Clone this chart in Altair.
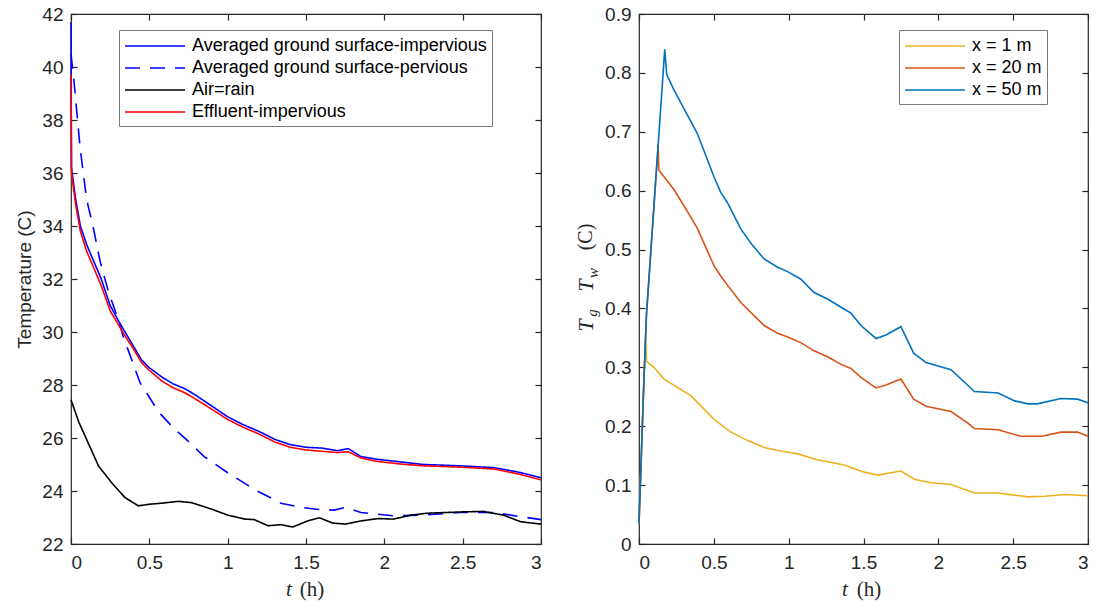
import altair as alt
import pandas as pd

# ---------------- Left panel: temperatures ----------------
t_imp = [0, 0.003, 0.03, 0.06, 0.1, 0.15, 0.193, 0.25, 0.3, 0.345, 0.4, 0.45, 0.5, 0.58, 0.65, 0.73, 0.8, 0.9,
         1.0, 1.1, 1.2, 1.3, 1.4, 1.5, 1.6, 1.7, 1.77, 1.85, 1.95, 2.1, 2.25, 2.4, 2.55, 2.7, 2.85, 3.0]
T_imp = [41.7, 36.2, 35.0, 34.0, 33.3, 32.6, 32.0, 31.0, 30.45, 30.0, 29.45, 28.95, 28.65, 28.3, 28.05, 27.85, 27.6, 27.2,
         26.8, 26.5, 26.25, 25.95, 25.75, 25.65, 25.62, 25.52, 25.6, 25.3, 25.2, 25.1, 25.0, 24.97, 24.93, 24.88, 24.72, 24.5]

t_per = [0, 0.02, 0.059, 0.1, 0.145, 0.186, 0.24, 0.3, 0.335, 0.44, 0.483, 0.557, 0.65, 0.748, 0.85, 1.0, 1.17, 1.34,
         1.47, 1.58, 1.68, 1.75, 1.85, 2.06, 2.27, 2.49, 2.7, 2.85, 3.0]
T_per = [40.5, 39.4, 36.9, 35.0, 33.86, 32.66, 31.5, 30.5, 29.8, 28.1, 27.7, 27.0, 26.4, 25.88, 25.3, 24.69, 24.06, 23.54,
         23.38, 23.3, 23.28, 23.38, 23.19, 23.06, 23.1, 23.19, 23.19, 23.05, 22.92]

t_air = [0, 0.05, 0.1, 0.176, 0.26, 0.345, 0.43, 0.5, 0.58, 0.685, 0.77, 0.9, 1.0, 1.11, 1.17, 1.257, 1.34, 1.415,
         1.51, 1.585, 1.67, 1.75, 1.85, 1.96, 2.06, 2.17, 2.27, 2.49, 2.63, 2.76, 2.87, 3.0]
T_air = [27.44, 26.6, 25.94, 24.94, 24.31, 23.75, 23.44, 23.5, 23.54, 23.61, 23.56, 23.31, 23.09, 22.94, 22.92, 22.69, 22.73, 22.64,
         22.87, 22.99, 22.79, 22.75, 22.87, 22.96, 22.94, 23.09, 23.16, 23.21, 23.23, 23.09, 22.84, 22.75]

t_eff = t_imp
T_eff = [39.7, 36.0, 34.8, 33.8, 33.05, 32.35, 31.75, 30.8, 30.3, 29.85, 29.35, 28.85, 28.55, 28.15, 27.9, 27.7, 27.45, 27.08,
         26.7, 26.4, 26.15, 25.85, 25.65, 25.55, 25.5, 25.45, 25.48, 25.25, 25.12, 25.02, 24.95, 24.92, 24.88, 24.83, 24.65, 24.42]

left_names = ["Averaged ground surface-impervious", "Averaged ground surface-pervious", "Air=rain", "Effluent-impervious"]
left_colors = ["#0000FF", "#0000FF", "#000000", "#FF0000"]
left_dashes = [[1, 0], [15, 10], [1, 0], [1, 0]]

# ---------------- Right panel: differences ----------------
t_x1 = [0, 0.033, 0.044, 0.05, 0.1, 0.167, 0.346, 0.5, 0.613, 0.725, 0.836, 0.947, 1.06, 1.19, 1.37, 1.505, 1.595, 1.75,
        1.84, 1.95, 2.085, 2.24, 2.4, 2.6, 2.71, 2.85, 3.0]
v_x1 = [0.035, 0.28, 0.35, 0.31, 0.30, 0.28, 0.252, 0.212, 0.19, 0.176, 0.164, 0.158, 0.153, 0.143, 0.134, 0.122, 0.117, 0.124,
        0.11, 0.104, 0.101, 0.0866, 0.0866, 0.080, 0.081, 0.084, 0.082]

t_x20 = [0, 0.033, 0.05, 0.128, 0.132, 0.236, 0.32, 0.39, 0.5, 0.546, 0.59, 0.68, 0.836, 0.926, 0.99, 1.08, 1.17, 1.26, 1.35, 1.416,
         1.483, 1.583, 1.65, 1.75, 1.835, 1.918, 2.085, 2.2, 2.24, 2.4, 2.55, 2.69, 2.82, 2.93, 3.0]
v_x20 = [0.035, 0.28, 0.39, 0.678, 0.635, 0.601, 0.566, 0.536, 0.473, 0.455, 0.44, 0.41, 0.371, 0.358, 0.352, 0.342, 0.328, 0.318, 0.305, 0.298,
         0.283, 0.265, 0.27, 0.28, 0.246, 0.234, 0.225, 0.205, 0.196, 0.194, 0.183, 0.183, 0.19, 0.19, 0.183]

t_x50 = [0, 0.033, 0.05, 0.168, 0.172, 0.185, 0.236, 0.32, 0.39, 0.5, 0.546, 0.59, 0.68, 0.75, 0.836, 0.926, 0.99, 1.08, 1.17, 1.26,
         1.35, 1.416, 1.483, 1.583, 1.65, 1.75, 1.835, 1.918, 2.085, 2.22, 2.24, 2.4, 2.51, 2.6, 2.66, 2.82, 2.93, 3.0]
v_x50 = [0.035, 0.28, 0.39, 0.825, 0.84, 0.797, 0.77, 0.73, 0.697, 0.624, 0.597, 0.58, 0.535, 0.51, 0.484, 0.47, 0.463, 0.45, 0.427, 0.416,
         0.402, 0.392, 0.371, 0.349, 0.355, 0.369, 0.324, 0.308, 0.296, 0.264, 0.259, 0.2565, 0.243, 0.238, 0.238, 0.247, 0.246, 0.24]

right_names = ["x = 1 m", "x = 20 m", "x = 50 m"]
right_colors = ["#EDB120", "#D95319", "#0072BD"]

x_ticks = [0, 0.5, 1, 1.5, 2, 2.5, 3]
left_y_ticks = [22, 24, 26, 28, 30, 32, 34, 36, 38, 40, 42]
right_y_ticks = [0, 0.1, 0.2, 0.3, 0.4, 0.5, 0.6, 0.7, 0.8, 0.9]

# ---------------- build tables ----------------
rows = []
for name, ts, vs in zip(left_names, [t_imp, t_per, t_air, t_eff], [T_imp, T_per, T_air, T_eff]):
    for a, b in zip(ts, vs):
        rows.append({"t": a, "T": b, "series": name})
df_left = pd.DataFrame(rows)

rows = []
for name, ts, vs in zip(right_names, [t_x1, t_x20, t_x50], [v_x1, v_x20, v_x50]):
    for a, b in zip(ts, vs):
        rows.append({"t": a, "v": b, "series": name})
df_right = pd.DataFrame(rows)

AX = "#262626"
SANS = "Liberation Sans"
SERIF = "Liberation Serif"
W1, W2, H = 470, 449, 530
TICK = 6

# long horizontal legend line: centre of the symbol box sits 10px in, line runs 0..60px
LEG_SYMBOL = "M-1,0H5"

def make_legend(x):
    return alt.Legend(title=None, orient="none", legendX=x, legendY=16, symbolType=LEG_SYMBOL,
                      symbolSize=400, symbolStrokeWidth=1.5, labelFont=SANS, labelFontSize=18,
                      labelColor="#000000", labelLimit=600, padding=5, rowPadding=2, labelOffset=46,
                      strokeColor="#7a7a7a", fillColor="white")

left_legend = make_legend(48)
right_legend = make_legend(260)

# axes drawn with inward ticks (MATLAB style): axis shifted inside by the tick length
def bottom_axis():
    return alt.Axis(values=x_ticks, format="~g", title=None, grid=False, tickSize=TICK, offset=-TICK,
                    labelPadding=9, domain=False)

def top_axis():
    return alt.Axis(values=x_ticks, orient="top", title=None, grid=False, tickSize=TICK, offset=-TICK,
                    labels=False, domain=False)

def left_axis(values, title=None, fmt="~g"):
    return alt.Axis(values=values, title=title, format=fmt, grid=False, tickSize=TICK, offset=-TICK,
                    labelPadding=8, domain=False, titlePadding=7)

def right_axis(values):
    return alt.Axis(values=values, orient="right", title=None, grid=False, tickSize=TICK, offset=-TICK,
                    labels=False, domain=False)

xs = alt.Scale(domain=[0, 3], nice=False)
ys_left = alt.Scale(domain=[22, 42], nice=False)
ys_right = alt.Scale(domain=[0, 0.9], nice=False)

left_lines = alt.Chart(df_left).mark_line(strokeWidth=1.6).encode(
    x=alt.X("t:Q", scale=xs, axis=bottom_axis()),
    y=alt.Y("T:Q", scale=ys_left, axis=left_axis(left_y_ticks, "Temperature (C)")),
    color=alt.Color("series:N", scale=alt.Scale(domain=left_names, range=left_colors), legend=left_legend),
    strokeDash=alt.StrokeDash("series:N", scale=alt.Scale(domain=left_names, range=left_dashes), legend=left_legend),
)

left_frame = alt.Chart(df_left).mark_line(opacity=0).encode(
    x=alt.X("t:Q", scale=xs, axis=top_axis()),
    y=alt.Y("T:Q", scale=ys_left, axis=right_axis(left_y_ticks)),
    detail="series:N",
)

one = pd.DataFrame({"k": [0]})

def label(txt, x, y, size, font=SERIF, style="normal", angle=0):
    return alt.Chart(one).mark_text(text=txt, font=font, fontSize=size, fontStyle=style, angle=angle,
                                    align="center", baseline="middle", color=AX).encode(
        x=alt.value(x), y=alt.value(y))

left = alt.layer(
    left_lines,
    left_frame,
    label("t", 218, 576, 21, style="italic"),
    label("(h)", 241, 576, 21),
).resolve_axis(x="independent", y="independent").properties(width=W1, height=H)

def right_line(name, with_axes):
    if with_axes:
        xe = alt.X("t:Q", scale=xs, axis=bottom_axis())
        ye = alt.Y("v:Q", scale=ys_right, axis=left_axis(right_y_ticks))
    else:
        xe = alt.X("t:Q", scale=xs, axis=None)
        ye = alt.Y("v:Q", scale=ys_right, axis=None)
    return alt.Chart(df_right).transform_filter(alt.datum.series == name).mark_line(strokeWidth=1.6).encode(
        x=xe, y=ye,
        color=alt.Color("series:N", scale=alt.Scale(domain=right_names, range=right_colors), legend=right_legend),
    )

right_frame = alt.Chart(df_right).mark_line(opacity=0).encode(
    x=alt.X("t:Q", scale=xs, axis=top_axis()),
    y=alt.Y("v:Q", scale=ys_right, axis=right_axis(right_y_ticks)),
    detail="series:N",
)

right = alt.layer(
    right_line(right_names[0], True),
    right_frame,
    right_line(right_names[1], False),
    right_line(right_names[2], False),
    label("T", -53.5, 311.5, 22, style="italic", angle=270),
    label("g", -47, 299, 15, style="italic", angle=270),
    label("T", -53.5, 271.5, 22, style="italic", angle=270),
    label("w", -46, 259, 15, style="italic", angle=270),
    label("(C)", -53, 223, 20, angle=270),
    label("t", 206, 576, 21, style="italic"),
    label("(h)", 230, 576, 21),
).resolve_axis(x="independent", y="independent").properties(width=W2, height=H)

chart = alt.hconcat(left, right, spacing=28).resolve_scale(color="independent", strokeDash="independent").properties(
    padding={"left": 15, "top": 4, "right": 2, "bottom": 5}, background="white"
).configure_view(stroke=AX, strokeWidth=1.2).configure_axis(
    domainColor=AX, tickColor=AX, labelColor=AX, titleColor=AX, labelFont=SANS, labelFontSize=19,
    titleFont=SANS, titleFontSize=19, titleFontWeight="normal", tickWidth=1.2
)

chart.save("out.html", embed_options={"renderer": "svg", "actions": False})
